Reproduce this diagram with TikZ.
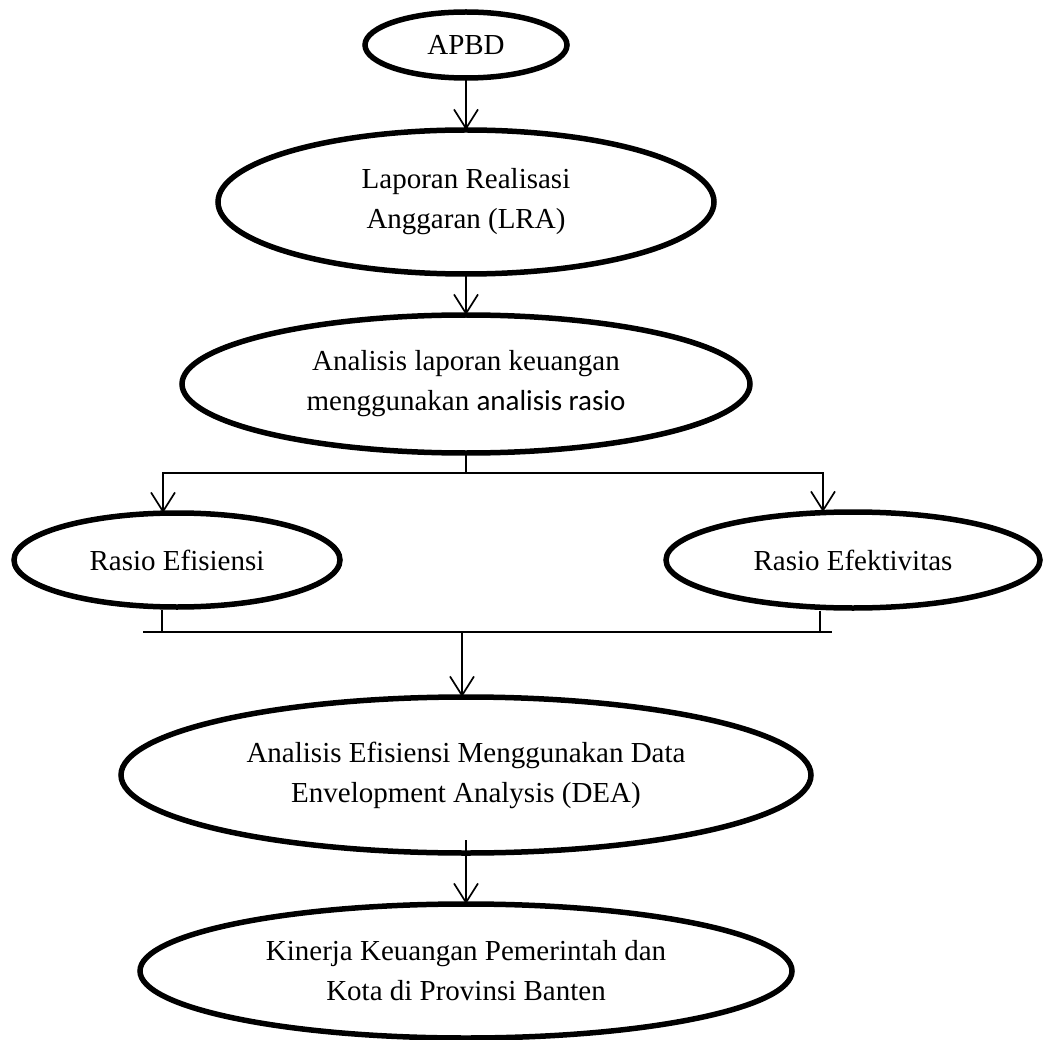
\documentclass[tikz,border=0pt]{standalone}
\usepackage{fontspec}
\setmainfont{Liberation Serif}
\newfontfamily\calibri{Carlito}
\usepackage{tikz}
\usetikzlibrary{positioning, arrows.meta, shapes.geometric}
\tikzset{panah/.style={line width=1.7pt, -{Straight Barb[length=19pt,width=24pt,line width=1.7pt]}}}
\tikzset{garis/.style={line width=1.7pt}}

\begin{document}
\begin{tikzpicture}[
            x = 1pt, y = -1pt,
            every node/.style={draw,ellipse,line width=5.5pt,inner sep=0pt,outer sep=0pt,
                align=center,font=\fontsize{29}{40}\selectfont}
        ]
            \useasboundingbox (0,0) rectangle (1049,1040);

            \node[minimum width=202pt, minimum height=66pt](apbd) at (466,45) {APBD};
            \node[below= 52pt of apbd, minimum width=496pt, minimum height=144pt] (lra) {Laporan Realisasi\\Anggaran (LRA)};
            \node[below= 41pt of lra, minimum width=568pt, minimum height=138pt] (ana) {Analisis laporan keuangan\\menggunakan {\calibri analisis rasio}};
            \node[minimum width=326pt, minimum height=94pt] (ref) at (177,560) {Rasio Efisiensi};
            \node[minimum width=374pt, minimum height=96pt] (eff) at (853,560) {Rasio Efektivitas};
            \node[below= 244pt of ana, minimum width=690pt, minimum height=156pt] (dea) {Analisis Efisiensi Menggunakan Data\\Envelopment Analysis (DEA)};
            \node[below= 51pt of dea, minimum width=652pt, minimum height=134pt] (kin) {Kinerja Keuangan Pemerintah dan\\Kota di Provinsi Banten};

            \coordinate (cabang) at (466,473);
            \coordinate (kiri) at (143,632);
            \coordinate (kanan) at (832,632);
            \coordinate (gabung) at (462,632);

            \draw[panah] (apbd) to [] (lra);
            \draw[panah] (lra) to [] (ana);
            \draw[garis] (ana) to [] (cabang);
            \draw[panah] (cabang) -| ([xshift=-14pt]ref.north);
            \draw[panah] (cabang) -| ([xshift=-30pt]eff.north);
            \draw[garis] ([xshift=-15pt,yshift=-3pt]ref.south) to [] ([xshift=-15pt]ref.south |- kiri);
            \draw[garis] ([xshift=-33pt,yshift=-3pt]eff.south) to [] ([xshift=-33pt]eff.south |- kanan);
            \draw[garis] (kiri) to [] (kanan);
            \draw[panah] (gabung) to [] (gabung |- dea.north);
            \draw[panah] ([yshift=13pt]dea.south) to [] (kin);
        \end{tikzpicture}
\end{document}
